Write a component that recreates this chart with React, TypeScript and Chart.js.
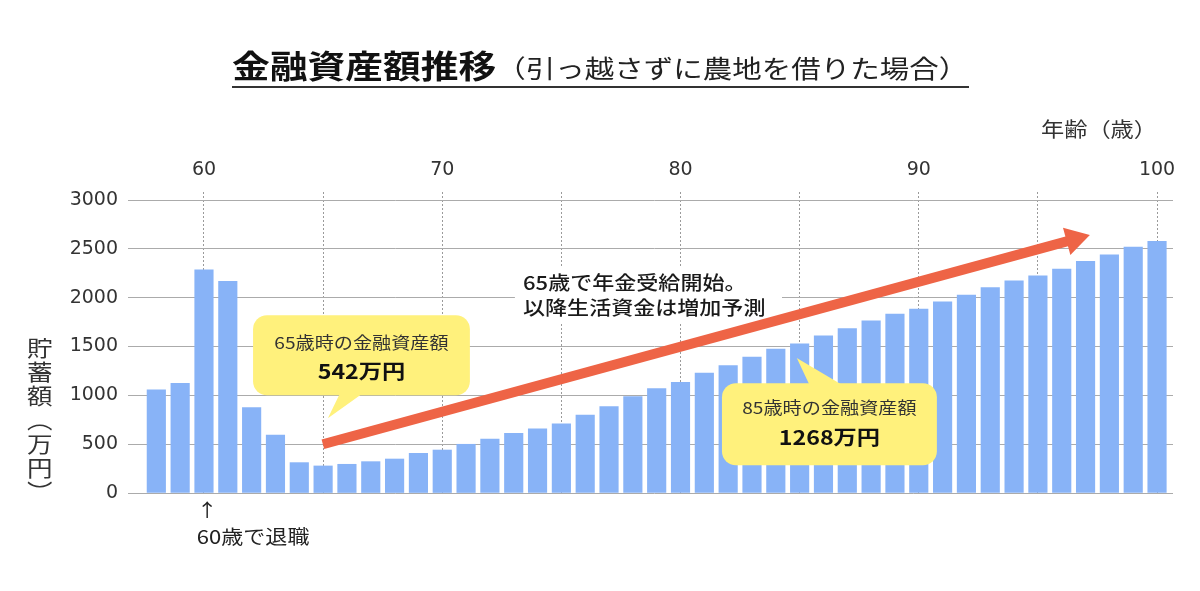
import React, { useEffect, useRef } from "react";
import { Chart, registerables } from "chart.js";

Chart.register(...registerables);

// ---- data ----
const ages = [
  58, 59, 60, 61, 62, 63, 64, 65, 66, 67, 68, 69, 70, 71, 72, 73, 74, 75, 76, 77, 78, 79,
  80, 81, 82, 83, 84, 85, 86, 87, 88, 89, 90, 91, 92, 93, 94, 95, 96, 97, 98, 99, 100,
];
const savings = [
  1056, 1124, 2285, 2166, 874, 594, 311, 277, 294, 321, 348, 406, 440, 499, 553, 611, 656,
  707, 799, 885, 987, 1069, 1134, 1227, 1305, 1391, 1473, 1527, 1609, 1684, 1763, 1831, 1883,
  1958, 2026, 2104, 2173, 2224, 2293, 2371, 2439, 2518, 2576,
];
const xGridTicks = [60, 65, 70, 75, 80, 85, 90, 95, 100];
const xLabelTicks = [60, 70, 80, 90, 100];
const yTicks = [0, 500, 1000, 1500, 2000, 2500, 3000];

const titleMain = "金融資産額推移";
const titleSub = "（引っ越さずに農地を借りた場合）";
const xAxisTitle = "年齢（歳）";
const yAxisTitle = "貯蓄額（万円）";

// annotations (data units)
const bubble65 = {
  x0: 62.06, x1: 71.16, yTop: 1821, yBottom: 1001,
  tip: [65.2, 766], tailX: [65.71, 66.67], tailSide: "bottom",
  lines: ["65歳時の金融資産額", "542万円"], lineY: [1534, 1247],
};
const bubble85 = {
  x0: 81.74, x1: 90.76, yTop: 1124, yBottom: 284,
  tip: [84.88, 1381], tailX: [85.42, 86.81], tailSide: "top",
  lines: ["85歳時の金融資産額", "1268万円"], lineY: [868, 571],
};
const pensionNote = { x: 73.39, lines: ["65歳で年金受給開始。", "以降生活資金は増加予測"], lineY: [2149, 1893], box: [73.05, 84.26, 2321, 1747] };
const trendArrow = { from: [64.99, 499], to: [97.18, 2641] };
const retireNote = { arrowX: 60.13, arrowY: -177, textX: 59.7, textY: -444, text: "60歳で退職" };

const CJK = '"Noto Sans CJK JP", "Noto Sans CJK SC", sans-serif';
const SX = 1.16;

function stretchedText(ctx: CanvasRenderingContext2D, text: string, x: number, y: number, font: string, color: string, align: CanvasTextAlign) {
  ctx.save();
  ctx.font = font;
  ctx.fillStyle = color;
  ctx.textAlign = align;
  ctx.textBaseline = "middle";
  ctx.translate(x, y);
  ctx.scale(SX, 1);
  ctx.fillText(text, 0, 0);
  ctx.restore();
}

const annotationPlugin = {
  id: "annotations",
  afterDatasetsDraw(chart: any) {
    const ctx: CanvasRenderingContext2D = chart.ctx;
    const xs = chart.scales.x;
    const ys = chart.scales.y;
    const px = (v: number) => xs.getPixelForValue(v);
    const py = (v: number) => ys.getPixelForValue(v);

    // pension note with white background
    ctx.save();
    ctx.fillStyle = "#ffffff";
    const b = pensionNote.box;
    ctx.fillRect(px(b[0]), py(b[2]), px(b[1]) - px(b[0]), py(b[3]) - py(b[2]));
    ctx.restore();
    pensionNote.lines.forEach((t, i) =>
      stretchedText(ctx, t, px(pensionNote.x), py(pensionNote.lineY[i]), `500 19px ${CJK}`, "#1a1a1a", "left")
    );

    // trend arrow
    const x0 = px(trendArrow.from[0]), y0 = py(trendArrow.from[1]);
    const x1 = px(trendArrow.to[0]), y1 = py(trendArrow.to[1]);
    const len = Math.hypot(x1 - x0, y1 - y0);
    const dx = (x1 - x0) / len, dy = (y1 - y0) / len;
    const headLen = 24, headHalf = 14;
    const bx = x1 - dx * headLen, by = y1 - dy * headLen;
    ctx.save();
    ctx.strokeStyle = "#EE6446";
    ctx.fillStyle = "#EE6446";
    ctx.lineWidth = 10;
    ctx.lineCap = "butt";
    ctx.beginPath();
    ctx.moveTo(x0, y0);
    ctx.lineTo(bx + dx * 2, by + dy * 2);
    ctx.stroke();
    ctx.beginPath();
    ctx.moveTo(x1, y1);
    ctx.lineTo(bx - dy * headHalf, by + dx * headHalf);
    ctx.lineTo(bx + dy * headHalf, by - dx * headHalf);
    ctx.closePath();
    ctx.fill();
    ctx.restore();

    // speech bubbles
    [bubble65, bubble85].forEach((bb) => {
      const l = px(bb.x0), r = px(bb.x1), t = py(bb.yTop), btm = py(bb.yBottom);
      ctx.save();
      ctx.fillStyle = "#FFF17C";
      ctx.beginPath();
      ctx.roundRect(l, t, r - l, btm - t, 14);
      ctx.fill();
      const edge = bb.tailSide === "bottom" ? btm - 2 : t + 2;
      ctx.beginPath();
      ctx.moveTo(px(bb.tailX[0]), edge);
      ctx.lineTo(px(bb.tip[0]), py(bb.tip[1]));
      ctx.lineTo(px(bb.tailX[1]), edge);
      ctx.closePath();
      ctx.fill();
      ctx.restore();
      const cx = (l + r) / 2;
      stretchedText(ctx, bb.lines[0], cx, py(bb.lineY[0]), `16.5px ${CJK}`, "#333333", "center");
      stretchedText(ctx, bb.lines[1], cx, py(bb.lineY[1]), `bold 20px ${CJK}`, "#111111", "center");
    });

    // retirement note
    stretchedText(ctx, "↑", px(retireNote.arrowX), py(retireNote.arrowY), `18px ${CJK}`, "#222222", "center");
    stretchedText(ctx, retireNote.text, px(retireNote.textX), py(retireNote.textY), `19px ${CJK}`, "#222222", "left");
  },
};

export default function App() {
  const canvasRef = useRef<HTMLCanvasElement | null>(null);

  useEffect(() => {
    if (!canvasRef.current) return;
    const chart = new Chart(canvasRef.current, {
      type: "bar",
      data: {
        datasets: [
          {
            label: "貯蓄額",
            data: ages.map((a, i) => ({ x: a, y: savings[i] })),
            backgroundColor: "#88B3F7",
            borderWidth: 0,
            barThickness: 18.5,
          },
        ],
      },
      options: {
        animation: false,
        responsive: false,
        devicePixelRatio: 1,
        layout: { padding: { left: 0, right: 27, top: 0, bottom: 98 } },
        plugins: { legend: { display: false }, tooltip: { enabled: false }, title: { display: false } },
        scales: {
          x: {
            type: "linear",
            position: "top",
            min: 57.147,
            max: 100.67,
            offset: false,
            afterBuildTicks: (scale: any) => {
              scale.ticks = xGridTicks.map((v) => ({ value: v }));
            },
            afterFit: (scale: any) => {
              scale.height = 200;
            },
            ticks: {
              autoSkip: false,
              maxRotation: 0,
              padding: 11,
              color: "#333333",
              font: { family: '"DejaVu Sans", sans-serif', size: 19 },
              callback: (v: any) => (xLabelTicks.includes(Number(v)) ? String(v) : ""),
            },
            grid: {
              offset: false,
              color: "#9a9a9a",
              lineWidth: 1,
              tickLength: 8,
              tickBorderDash: [2, 2],
            },
            border: { display: false, dash: [2, 2] },
          },
          y: {
            min: 0,
            max: 3000,
            afterBuildTicks: (scale: any) => {
              scale.ticks = yTicks.map((v) => ({ value: v }));
            },
            afterFit: (scale: any) => {
              scale.width = 136;
            },
            ticks: {
              padding: 10,
              color: "#333333",
              font: { family: '"DejaVu Sans", sans-serif', size: 19 },
              callback: (v: any) => String(v),
            },
            grid: { color: "#ababab", lineWidth: 1, tickLength: 8 },
            border: { display: false },
          },
        },
      },
      plugins: [annotationPlugin],
    } as any);
    return () => chart.destroy();
  }, []);

  return (
    <div style={{ position: "absolute", left: 0, top: 0, width: 1200, height: 591, background: "#ffffff", overflow: "hidden" }}>
      <canvas ref={canvasRef} width={1200} height={591} style={{ position: "absolute", left: 0, top: 0 }} />
      <div
        style={{
          position: "absolute",
          left: 232,
          top: 48,
          whiteSpace: "nowrap",
          fontFamily: CJK,
          color: "#111",
          lineHeight: 1,
          transform: `scaleX(${1.18})`,
          transformOrigin: "left top",
        }}
      >
        <span style={{ fontSize: 32, fontWeight: 700 }}>{titleMain}</span>
        <span style={{ fontSize: 25, fontWeight: 400, color: "#222" }}>{titleSub}</span>
      </div>
      <div style={{ position: "absolute", left: 232, top: 86, width: 737, height: 2, background: "#333" }} />
      <div
        style={{
          position: "absolute",
          left: 1041,
          top: 119,
          fontFamily: CJK,
          fontSize: 20,
          lineHeight: 1,
          color: "#333",
          whiteSpace: "nowrap",
          transform: `scaleX(${SX})`,
          transformOrigin: "left top",
        }}
      >
        {xAxisTitle}
      </div>
      <div
        style={{
          position: "absolute",
          left: 27,
          top: 337,
          fontFamily: CJK,
          fontSize: 22,
          lineHeight: 1,
          letterSpacing: 2,
          color: "#333",
          writingMode: "vertical-rl",
          whiteSpace: "nowrap",
          transform: `scaleX(${SX})`,
          transformOrigin: "left top",
        }}
      >
        {yAxisTitle}
      </div>
    </div>
  );
}
